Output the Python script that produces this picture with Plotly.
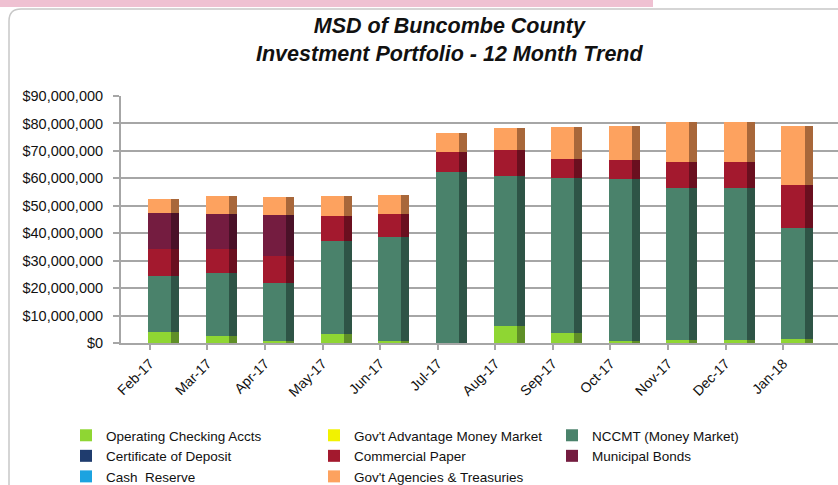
import plotly.graph_objects as go

# values, in millions of dollars
months = ["Feb-17", "Mar-17", "Apr-17", "May-17", "Jun-17", "Jul-17",
          "Aug-17", "Sep-17", "Oct-17", "Nov-17", "Dec-17", "Jan-18"]

operating_checking = [4.1, 2.7, 0.7, 3.2, 0.7, 0.0, 6.2, 3.8, 0.8, 1.2, 1.2, 1.4]
govt_advantage = [0] * 12
nccmt = [20.4, 22.8, 21.3, 34.1, 38.0, 62.3, 54.8, 56.3, 58.8, 55.3, 55.3, 40.6]
cert_deposit = [0] * 12
commercial_paper = [9.6, 8.6, 9.6, 9.1, 8.3, 7.4, 9.5, 7.0, 7.0, 9.5, 9.5, 15.5]
municipal_bonds = [13.2, 13.0, 14.9, 0, 0, 0, 0, 0, 0, 0, 0, 0]
cash_reserve = [0] * 12
agencies = [5.2, 6.5, 6.6, 7.0, 6.9, 6.9, 7.7, 11.5, 12.5, 14.4, 14.4, 21.6]

# name, values, front colour, side colour, legend column
series = [
    ("Operating Checking Accts", operating_checking, "#8fd633", "#5f8f27", "legend"),
    ("Gov't Advantage Money Market", govt_advantage, "#f2f200", "#a0a000", "legend2"),
    ("NCCMT (Money Market)", nccmt, "#4a826b", "#2e5446", "legend3"),
    ("Certificate of Deposit", cert_deposit, "#1f3c6e", "#142848", "legend"),
    ("Commercial Paper", commercial_paper, "#a3192e", "#6a0f1f", "legend2"),
    ("Municipal Bonds", municipal_bonds, "#741c40", "#4a1128", "legend3"),
    ("Cash  Reserve", cash_reserve, "#1ca3e0", "#126c94", "legend"),
    ("Gov't Agencies & Treasuries", agencies, "#fda25f", "#a8673a", "legend2"),
]

# pixel layout of the plot area
L, R, T, B = 121, 838, 96, 343
W, H = 838, 485
ncat = 12
catw = (812 - L) / ncat
xmax = -0.5 + (R - L) / catw


def px(x):
    return (x - L) / (R - L)


def py(y):
    return (B - y) / (B - T)


fig = go.Figure()

for name, vals, front, side, leg in series:
    dollars = [v * 1e6 for v in vals]
    # front face of the 3D-ish bar
    fig.add_trace(go.Bar(
        x=list(range(ncat)), y=dollars, name=name, legend=leg, legendgroup=name,
        marker=dict(color=front, line=dict(width=0)),
        offset=-0.03, width=0.40,
        xaxis="x", yaxis="y",
    ))
    # darker side face, stacked on its own overlaying axis
    fig.add_trace(go.Bar(
        x=list(range(ncat)), y=dollars, name=name, showlegend=False, legendgroup=name,
        marker=dict(color=side, line=dict(width=0)),
        offset=0.37, width=0.14,
        xaxis="x2", yaxis="y",
    ))

axis_grey = "#a6a6a6"
legend_font = dict(family="Liberation Sans, Arial, sans-serif", size=13.5, color="#111111")
legend_common = dict(orientation="v", xanchor="left", yanchor="top",
                     font=legend_font, bgcolor="rgba(0,0,0,0)",
                     traceorder="grouped", tracegroupgap=0, itemwidth=30)

fig.update_layout(
    width=W, height=H,
    barmode="stack",
    plot_bgcolor="white",
    paper_bgcolor="white",
    margin=dict(l=L, r=W - R, t=T, b=H - B, autoexpand=False),
    font=dict(family="Liberation Sans, Arial, sans-serif", size=13, color="#222222"),
    xaxis=dict(
        range=[-0.5, xmax],
        tickmode="array", tickvals=list(range(ncat)), ticktext=months,
        tickangle=-45, ticks="outside", ticklen=5, tickcolor=axis_grey,
        tickson="boundaries", tickwidth=1.5,
        showline=True, linecolor=axis_grey, linewidth=2,
        showgrid=False, zeroline=False,
        tickfont=dict(size=14, color="#111111"),
    ),
    xaxis2=dict(
        range=[-0.5, xmax], overlaying="x", visible=False,
    ),
    yaxis=dict(
        range=[0, 90e6], dtick=10e6, tickprefix="$", tickformat=",",
        ticks="outside", ticklen=6, tickcolor=axis_grey, tickwidth=1.5,
        ticklabelstandoff=7,
        showline=True, linecolor=axis_grey, linewidth=2,
        showgrid=True, gridcolor=axis_grey, gridwidth=1.5,
        zeroline=False, tickfont=dict(size=14.5, color="#111111"),
    ),
    legend=dict(x=px(66), y=py(420), **legend_common),
    legend2=dict(x=px(314), y=py(420), **legend_common),
    legend3=dict(x=px(552), y=py(420), **legend_common),
    showlegend=True,
    annotations=[
        dict(text="<b><i>MSD of Buncombe County<br>Investment Portfolio - 12 Month Trend</i></b>",
             xref="paper", yref="paper", x=px(449), y=py(12),
             xanchor="center", yanchor="top", showarrow=False,
             font=dict(family="Liberation Sans, Arial, sans-serif", size=21.5, color="#111111")),
    ],
    shapes=[
        # pink strip at the very top of the page
        dict(type="rect", xref="paper", yref="paper",
             x0=px(0), x1=px(653), y0=py(0), y1=py(7),
             fillcolor="#efc1d2", line=dict(width=0), layer="below"),
        # card outline with rounded corner
        dict(type="path", xref="paper", yref="paper",
             path=f"M {px(9)},{py(485)} L {px(9)},{py(21)} "
                  f"Q {px(9)},{py(9)} {px(21)},{py(9)} L {px(838)},{py(9)}",
             line=dict(color="#c8c8c8", width=1.5), layer="below"),
    ],
)

# drop the browser's default page margin so the figure sits at the window corner
fig.write_html("out.html", config={"displayModeBar": False},
               post_script="document.body.style.margin='0px';")
